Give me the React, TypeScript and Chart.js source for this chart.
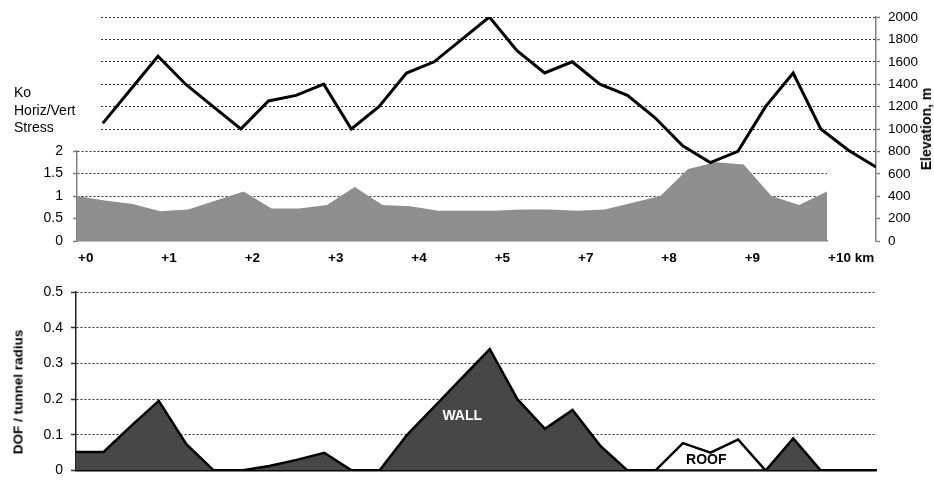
import React, { useEffect, useRef } from 'react';
import { Chart, registerables } from 'chart.js';

Chart.register(...registerables);

const FONT = '"Liberation Sans", Arial, Helvetica, sans-serif';

// Ko = horizontal / vertical stress ratio, one value per profile station
const KO_STRESS = [
  1.0, 0.9, 0.82, 0.66, 0.7, 0.9, 1.1, 0.72, 0.72, 0.8, 1.2, 0.8, 0.77, 0.67,
  0.67, 0.67, 0.7, 0.7, 0.67, 0.7, 0.85, 1.0, 1.6, 1.75, 1.7, 1.0, 0.8, 1.1,
];

// Ground surface elevation along the alignment, m
const ELEVATION = [
  1050, 1350, 1650, 1400, 1200, 1000, 1250, 1300, 1400, 1000, 1200, 1500, 1600,
  1800, 2000, 1700, 1500, 1600, 1400, 1300, 1100, 850, 700, 800, 1200, 1500,
  1000, 810, 660,
];

// Chainage labels, one every third Ko station
const KM_LABELS = ['+0', '+1', '+2', '+3', '+4', '+5', '+7', '+8', '+9', '+10 km'];
const KM_LABEL_STEP = 3;

// Depth of failure / tunnel radius: wall and roof failure zones
const DOF_WALL = [
  0.052, 0.052, 0.125, 0.195, 0.074, 0, 0, 0.013, 0.03, 0.05, 0, 0, 0.1, 0.18,
  0.26, 0.34, 0.2, 0.117, 0.17, 0.07, 0, 0, 0, 0, 0, 0, 0.09, 0,
];
const DOF_ROOF = [
  null, null, null, null, null, null, null, null, null, null, null, null, null,
  null, null, null, null, null, null, null, null, 0, 0.077, 0.05, 0.087, 0,
  null, null,
];
const DOF_LAST_STATION = 29;

// Zone labels inside the DOF plot (station index, DOF value)
const DOF_NOTES = [
  { text: 'WALL', at: 14, value: 0.152, color: '#ffffff' },
  { text: 'ROOF', at: 22.85, value: 0.03, color: '#000000' },
];

const GRID = '#333333';
const AXIS = '#808080';
const NONE = 'rgba(0,0,0,0)';

const asPoints = (arr: (number | null)[]) => arr.map((y, x) => ({ x, y }));
const plainNumber = (v: any) => String(Math.round(Number(v) * 10) / 10);

const dofNotes = {
  id: 'dofNotes',
  afterDatasetsDraw(chart: any) {
    const { ctx, scales } = chart;
    ctx.save();
    ctx.font = `bold 14px ${FONT}`;
    ctx.textAlign = 'center';
    ctx.textBaseline = 'middle';
    for (const n of DOF_NOTES) {
      ctx.fillStyle = n.color;
      ctx.fillText(n.text, scales.x.getPixelForValue(n.at), scales.y.getPixelForValue(n.value));
    }
    ctx.restore();
  },
};

const base = {
  animation: false,
  responsive: false,
  devicePixelRatio: 1,
  events: [],
  plugins: { legend: { display: false }, tooltip: { enabled: false } },
};

export default function App() {
  const koRef = useRef<HTMLCanvasElement>(null);
  const elevRef = useRef<HTMLCanvasElement>(null);
  const dofRef = useRef<HTMLCanvasElement>(null);

  useEffect(() => {
    const ko = new Chart(koRef.current as HTMLCanvasElement, {
      type: 'line',
      data: {
        datasets: [
          {
            data: asPoints(KO_STRESS),
            fill: 'origin',
            backgroundColor: '#8e8e8e',
            borderWidth: 0,
            pointRadius: 0,
            tension: 0,
          },
        ],
      },
      options: {
        ...base,
        layout: { padding: { left: 0, right: 107, top: 21, bottom: 0 } },
        scales: {
          x: {
            type: 'linear',
            min: 0,
            max: KO_STRESS.length - 1,
            afterBuildTicks: (s: any) => {
              s.ticks = KM_LABELS.map((_, i) => ({ value: i * KM_LABEL_STEP }));
            },
            afterFit: (s: any) => {
              s.height = 29;
            },
            grid: { display: false, drawTicks: false },
            border: { display: true, color: AXIS, width: 1.5 },
            ticks: {
              autoSkip: false,
              maxRotation: 0,
              align: 'start',
              padding: 9,
              labelOffset: 1,
              color: '#000',
              font: { size: 13.5, weight: 'bold', family: FONT },
              callback: (_v: any, i: number) => KM_LABELS[i],
            },
          },
          y: {
            min: 0,
            max: 2,
            afterFit: (s: any) => {
              s.width = 77;
            },
            ticks: {
              stepSize: 0.5,
              padding: 10,
              color: '#000',
              font: { size: 14, family: FONT },
              callback: plainNumber,
            },
            grid: {
              color: (c: any) => (c.tick && c.tick.value === 0 ? NONE : GRID),
              lineWidth: 1,
              tickLength: 4,
              tickColor: AXIS,
              tickWidth: 1.5,
            },
            border: { color: AXIS, width: 1.5, dash: [2, 2] },
          },
        },
      },
    } as any);

    const elev = new Chart(elevRef.current as HTMLCanvasElement, {
      type: 'line',
      data: {
        datasets: [
          {
            data: asPoints(ELEVATION),
            borderColor: '#000',
            borderWidth: 3,
            pointRadius: 0,
            fill: false,
            tension: 0,
          },
        ],
      },
      options: {
        ...base,
        layout: { padding: { left: 100, right: 0, top: 17, bottom: 29 } },
        scales: {
          x: { type: 'linear', display: false, min: -0.1, max: ELEVATION.length - 1 },
          y: {
            position: 'right',
            min: 0,
            max: 2000,
            afterFit: (s: any) => {
              s.width = 58;
            },
            ticks: {
              stepSize: 200,
              padding: 8,
              color: '#000',
              font: { size: 13.5, family: FONT },
              callback: plainNumber,
            },
            grid: {
              color: (c: any) => (c.tick && c.tick.value >= 800 ? GRID : NONE),
              lineWidth: 1,
              tickLength: 4,
              tickColor: AXIS,
              tickWidth: 1.5,
            },
            border: { color: AXIS, width: 1.5, dash: [2, 2], dashOffset: 23 },
          },
        },
      },
    } as any);

    const dof = new Chart(dofRef.current as HTMLCanvasElement, {
      type: 'line',
      data: {
        datasets: [
          {
            data: asPoints(DOF_WALL),
            fill: 'origin',
            backgroundColor: '#474747',
            borderColor: '#000',
            borderWidth: 2.5,
            pointRadius: 0,
            tension: 0,
          },
          {
            data: asPoints(DOF_ROOF),
            fill: 'origin',
            backgroundColor: '#ffffff',
            borderColor: '#000',
            borderWidth: 2.5,
            pointRadius: 0,
            tension: 0,
          },
        ],
      },
      options: {
        ...base,
        layout: { padding: { left: 0, right: 58, top: 22, bottom: 6 } },
        scales: {
          x: {
            type: 'linear',
            min: 0,
            max: DOF_LAST_STATION,
            afterFit: (s: any) => {
              s.height = 0;
            },
            ticks: { display: false },
            grid: { display: false, drawTicks: false },
            border: { display: true, color: '#000', width: 2.5 },
          },
          y: {
            min: 0,
            max: 0.5,
            afterFit: (s: any) => {
              s.width = 76;
            },
            ticks: {
              stepSize: 0.1,
              padding: 8,
              color: '#000',
              font: { size: 14, family: FONT },
              callback: plainNumber,
            },
            grid: {
              color: (c: any) => (c.tick && c.tick.value === 0 ? NONE : GRID),
              lineWidth: 1,
              tickLength: 5,
              tickColor: '#333',
              tickWidth: 1.5,
            },
            border: { color: '#222', width: 1.5, dash: [2, 2] },
          },
        },
      },
      plugins: [dofNotes],
    } as any);

    return () => {
      ko.destroy();
      elev.destroy();
      dof.destroy();
    };
  }, []);

  const abs = { position: 'absolute' as const };

  return (
    <div
      style={{
        position: 'absolute',
        left: 0,
        top: 0,
        width: 934,
        height: 487,
        background: '#fff',
        fontFamily: FONT,
        color: '#000',
        overflow: 'hidden',
      }}
    >
      <canvas ref={koRef} width={934} height={140} style={{ ...abs, left: 0, top: 130, width: 934, height: 140 }} />
      <canvas ref={elevRef} width={934} height={270} style={{ ...abs, left: 0, top: 0, width: 934, height: 270 }} />
      <canvas ref={dofRef} width={934} height={217} style={{ ...abs, left: 0, top: 270, width: 934, height: 217 }} />
      <div style={{ ...abs, left: 14, top: 84, fontSize: 14, lineHeight: '17.5px' }}>
        Ko
        <br />
        Horiz/Vert
        <br />
        Stress
      </div>
      <div
        style={{
          ...abs,
          left: 926,
          top: 129,
          fontSize: 14,
          fontWeight: 'bold',
          whiteSpace: 'nowrap',
          transform: 'translate(-50%, -50%) rotate(-90deg)',
        }}
      >
        Elevation, m
      </div>
      <div
        style={{
          ...abs,
          left: 18,
          top: 392,
          fontSize: 13.5,
          fontWeight: 'bold',
          whiteSpace: 'nowrap',
          transform: 'translate(-50%, -50%) rotate(-90deg)',
        }}
      >
        DOF / tunnel radius
      </div>
    </div>
  );
}
